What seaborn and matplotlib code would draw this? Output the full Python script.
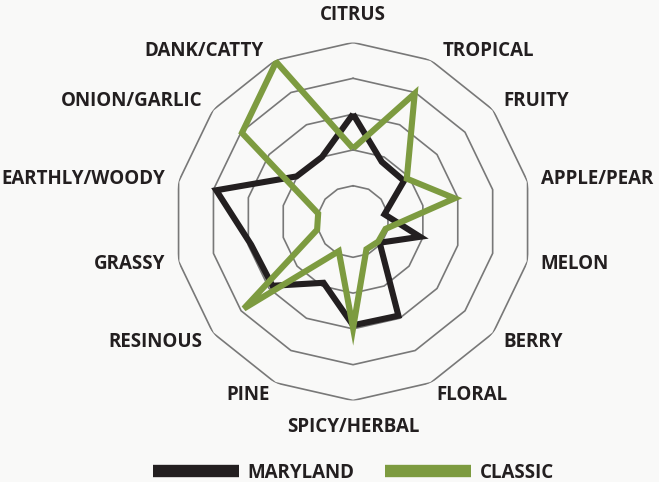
import numpy as np
import pandas as pd
import matplotlib
matplotlib.use("Agg")
import matplotlib.pyplot as plt
from matplotlib.lines import Line2D
import seaborn as sns

# flavour wheel, clockwise from the top
flavors = ["CITRUS", "TROPICAL", "FRUITY", "APPLE/PEAR", "MELON", "BERRY", "FLORAL",
           "SPICY/HERBAL", "PINE", "RESINOUS", "GRASSY", "EARTHLY/WOODY",
           "ONION/GARLIC", "DANK/CATTY"]
maryland = [3.0, 1.85, 1.82, 0.9, 1.92, 0.95, 2.92, 2.9, 1.9, 2.88, 2.92, 3.92, 2.02, 2.0]
classic = [2.04, 3.97, 1.92, 2.91, 0.93, 0.9, 0.86, 2.98, 0.92, 3.9, 1.03, 1.0, 3.97, 4.95]
rings = [1, 2, 3, 4, 5]

BLACK = "#231f20"
GREEN = "#7d9b40"
BG = "#f9f9f8"
FS = 13.5

n = len(flavors)
theta = np.linspace(0, 2 * np.pi, n, endpoint=False)
theta_closed = np.append(theta, 2 * np.pi)

rows = []
for name, vals in [("MARYLAND", maryland), ("CLASSIC", classic)]:
    v = vals + vals[:1]
    for t, r in zip(theta_closed, v):
        rows.append({"theta": t, "value": r, "sample": name})
df = pd.DataFrame(rows)

sns.set_style("white")
plt.rcParams["font.family"] = ["Open Sans", "DejaVu Sans"]

fig = plt.figure(figsize=(6.59, 4.82), dpi=100)
fig.patch.set_facecolor(BG)
ax = fig.add_axes([0.2641, 0.1691, 0.5433, 0.7427], projection="polar")
ax.set_theta_zero_location("N")
ax.set_theta_direction(-1)
ax.patch.set_alpha(0)
ax.grid(False)
ax.spines["polar"].set_visible(False)
ax.set_xticks([])
ax.set_yticks([])

# polygon rings
for r in rings:
    ax.plot(theta_closed, [r] * (n + 1), color="#787878", lw=1.2, zorder=1)

sns.lineplot(data=df, x="theta", y="value", hue="sample", sort=False, estimator=None,
             palette={"MARYLAND": BLACK, "CLASSIC": GREEN}, linewidth=4.4,
             legend=False, ax=ax, zorder=3)
for line in ax.lines[len(rings):]:
    line.set_solid_joinstyle("miter")
    line.set_solid_capstyle("butt")
ax.set_ylim(0, 5)
ax.set_xlabel("")
ax.set_ylabel("")

for t, lab in zip(theta, flavors):
    deg = np.degrees(t)
    # labels next to the top axis sit a little further out
    nudge = 0.035 if np.isclose(deg, 360 / n) or np.isclose(deg, 360 - 360 / n) else 0
    if np.isclose(deg, 0):
        ax.text(t, 5.5, lab, ha="center", va="bottom", fontsize=FS, fontweight="bold", color=BLACK)
    elif np.isclose(deg, 180):
        ax.text(t, 5.46, lab, ha="center", va="top", fontsize=FS, fontweight="bold", color=BLACK)
    elif deg < 180:
        ax.text(t + nudge, 5.38, lab, ha="left", va="center", fontsize=FS, fontweight="bold", color=BLACK)
    else:
        ax.text(t - nudge, 5.38, lab, ha="right", va="center", fontsize=FS, fontweight="bold", color=BLACK)

handles = [Line2D([], [], color=BLACK, lw=8.9, solid_capstyle="butt"),
           Line2D([], [], color=GREEN, lw=8.9, solid_capstyle="butt")]
leg = fig.legend(handles, ["MARYLAND", "CLASSIC"], loc="center", bbox_to_anchor=(0.5364, 0.0187),
                 ncol=2, frameon=False, handlelength=4.59, handletextpad=0.43,
                 columnspacing=1.65, prop={"weight": "bold", "size": FS})
for t in leg.get_texts():
    t.set_color(BLACK)

fig.savefig("out.png", dpi=100, facecolor=BG)
